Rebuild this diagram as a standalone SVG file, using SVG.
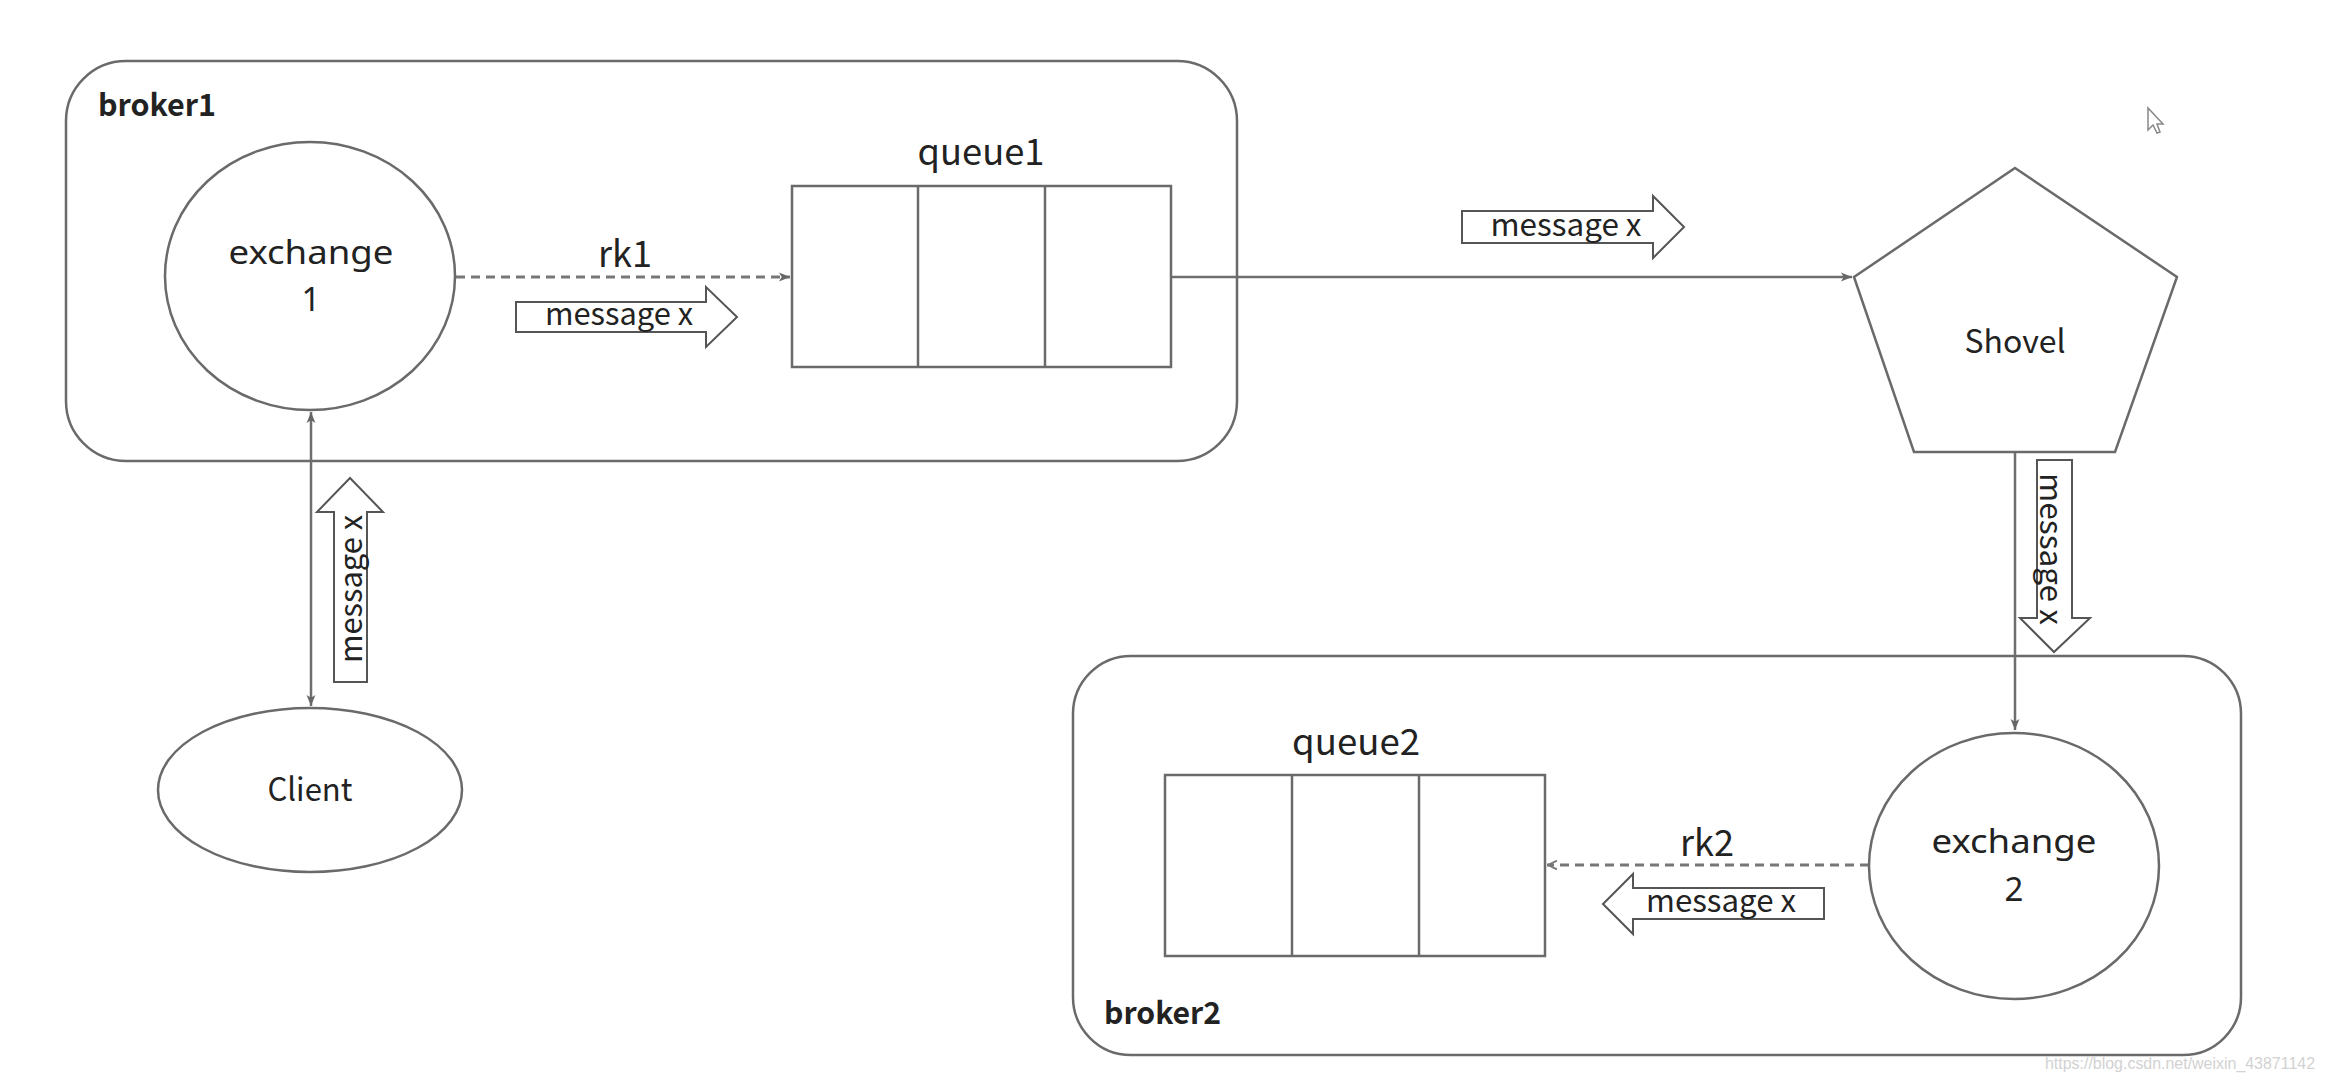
<svg xmlns="http://www.w3.org/2000/svg" width="2326" height="1082" viewBox="0 0 2326 1082">
<style>
.box{fill:none;stroke:#6a6a6a;stroke-width:2.5}
.shape{fill:#fff;stroke:#6a6a6a;stroke-width:2.5}
.cell{fill:none;stroke:#6a6a6a;stroke-width:2.5}
.conn{fill:none;stroke:#6e6e6e;stroke-width:2.5}
.dash{fill:none;stroke:#777;stroke-width:3;stroke-dasharray:9 6}
.blk{fill:#fff;stroke:#555;stroke-width:2}
.t{font-family:"Noto Sans CJK SC","Noto Sans",sans-serif;fill:#222}
.ex{font-family:"Noto Sans",sans-serif;font-size:33px;fill:#222}
.big{font-size:36px}
.mid{font-size:32px}
.msg{font-size:31px}
.lbl{font-size:31px;font-weight:700}
.wm{font-family:"Liberation Sans",Arial,sans-serif;font-size:16px;fill:#d2d2d2}
</style>
<defs>
<marker id="ah" viewBox="0 0 10 10" refX="10" refY="5" markerWidth="12" markerHeight="11" markerUnits="userSpaceOnUse" orient="auto-start-reverse">
<path d="M0,1 L10,5 L0,9 L2.5,5 z" fill="#666"/>
</marker>
<marker id="ao" viewBox="0 0 10 10" refX="10" refY="5" markerWidth="12" markerHeight="11" markerUnits="userSpaceOnUse" orient="auto">
<path d="M1,1 L9,5 L1,9" fill="none" stroke="#777" stroke-width="1.6"/>
</marker>
</defs>
<rect width="2326" height="1082" fill="#fff"/>

<g id="broker1">
<rect class="box" x="66" y="61" width="1171" height="400" rx="60"/>
<text class="t lbl" x="98" y="116" textLength="118" lengthAdjust="spacingAndGlyphs">broker1</text>
</g>

<g id="broker2">
<rect class="box" x="1073" y="656" width="1168" height="399" rx="58"/>
<text class="t lbl" x="1104" y="1024" textLength="117" lengthAdjust="spacingAndGlyphs">broker2</text>
</g>

<g id="connectors">
<line class="dash" x1="456" y1="277" x2="790" y2="277" marker-end="url(#ah)"/>
<line class="conn" x1="1171" y1="277" x2="1852" y2="277" marker-end="url(#ah)"/>
<line class="conn" x1="311" y1="412" x2="311" y2="706" marker-start="url(#ah)" marker-end="url(#ah)"/>
<line class="conn" x1="2015" y1="452" x2="2015" y2="730" marker-end="url(#ah)"/>
<line class="dash" x1="1869" y1="865" x2="1547" y2="865" marker-end="url(#ao)"/>
</g>

<g id="exchange1">
<ellipse class="shape" cx="310" cy="276" rx="145" ry="134"/>
<text class="ex" x="311" y="264" text-anchor="middle" textLength="165" lengthAdjust="spacingAndGlyphs">exchange</text>
<text class="ex" x="311" y="311" text-anchor="middle">1</text>
</g>

<g id="rk1-label">
<text class="t big" x="625" y="267" text-anchor="middle" textLength="54" lengthAdjust="spacingAndGlyphs">rk1</text>
</g>

<g id="msg1">
<polygon class="blk" points="516,302 706,302 706,287 737,317 706,347 706,332 516,332"/>
<text class="t msg" x="619" y="325" text-anchor="middle" textLength="148" lengthAdjust="spacingAndGlyphs">message x</text>
</g>

<g id="queue1">
<text class="t big" x="981" y="165" text-anchor="middle" textLength="127" lengthAdjust="spacingAndGlyphs">queue1</text>
<rect class="shape" x="792" y="186" width="379" height="181"/>
<line class="cell" x1="918" y1="186" x2="918" y2="367"/>
<line class="cell" x1="1045" y1="186" x2="1045" y2="367"/>
</g>

<g id="msg2">
<polygon class="blk" points="1462,211 1653,211 1653,196 1684,227 1653,258 1653,243 1462,243"/>
<text class="t msg" x="1566" y="236" text-anchor="middle" textLength="151" lengthAdjust="spacingAndGlyphs">message x</text>
</g>

<g id="shovel">
<polygon class="shape" points="2015,168 2177,277 2115,452 1914,452 1854,277"/>
<text class="t mid" x="2015" y="353" text-anchor="middle" textLength="101" lengthAdjust="spacingAndGlyphs">Shovel</text>
</g>

<g id="msg3">
<polygon class="blk" points="334,682 334,512 317,512 350,478 383,512 367,512 367,682"/>
<text class="t msg" transform="translate(362,589) rotate(-90)" x="0" y="0" text-anchor="middle" textLength="148" lengthAdjust="spacingAndGlyphs">message x</text>
</g>

<g id="client">
<ellipse class="shape" cx="310" cy="790" rx="152" ry="82"/>
<text class="t mid" x="310" y="801" text-anchor="middle" textLength="85" lengthAdjust="spacingAndGlyphs">Client</text>
</g>

<g id="msg4">
<polygon class="blk" points="2037,460 2072,460 2072,618 2090,618 2054,652 2020,618 2037,618"/>
<text class="t msg" transform="translate(2040,549) rotate(90)" x="0" y="0" text-anchor="middle" textLength="152" lengthAdjust="spacingAndGlyphs">message x</text>
</g>

<g id="exchange2">
<ellipse class="shape" cx="2014" cy="866" rx="145" ry="133"/>
<text class="ex" x="2014" y="853" text-anchor="middle" textLength="165" lengthAdjust="spacingAndGlyphs">exchange</text>
<text class="ex" x="2014" y="901" text-anchor="middle">2</text>
</g>

<g id="rk2-label">
<text class="t big" x="1707" y="856" text-anchor="middle" textLength="54" lengthAdjust="spacingAndGlyphs">rk2</text>
</g>

<g id="msg5">
<polygon class="blk" points="1824,888 1633,888 1633,874 1603,904 1633,934 1633,919 1824,919"/>
<text class="t msg" x="1721" y="912" text-anchor="middle" textLength="150" lengthAdjust="spacingAndGlyphs">message x</text>
</g>

<g id="queue2">
<text class="t big" x="1356" y="755" text-anchor="middle" textLength="128" lengthAdjust="spacingAndGlyphs">queue2</text>
<rect class="shape" x="1165" y="775" width="380" height="181"/>
<line class="cell" x1="1292" y1="775" x2="1292" y2="956"/>
<line class="cell" x1="1419" y1="775" x2="1419" y2="956"/>
</g>

<path d="M2148,108 L2148,130 L2153,125 L2157,133 L2160,132 L2157,124 L2163,124 Z" fill="#fff" stroke="#888" stroke-width="1.5"/>

<text class="wm" x="2045" y="1069" textLength="270" lengthAdjust="spacingAndGlyphs">https://blog.csdn.net/weixin_43871142</text>
</svg>
